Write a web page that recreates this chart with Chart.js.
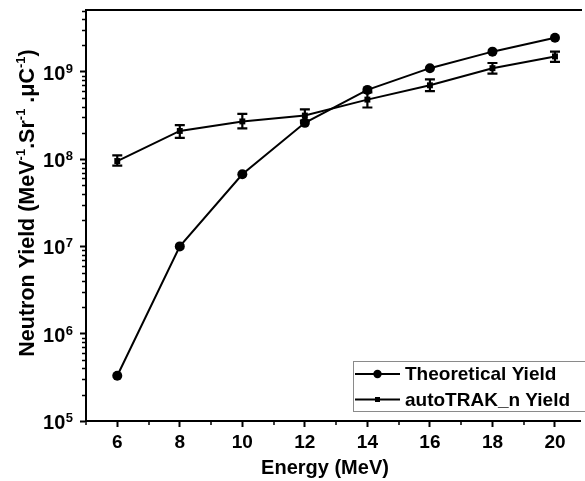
<!DOCTYPE html>
<html><head><meta charset="utf-8">
<script src="https://cdn.jsdelivr.net/npm/chart.js@4"></script>
<style>html,body{margin:0;padding:0;background:#fff}</style>
</head><body>
<canvas id="c" width="585" height="481"></canvas>
<script>
const energies = [6, 8, 10, 12, 14, 16, 18, 20];
const theoreticalYield = [3.3e5, 1.0e7, 6.7e7, 2.6e8, 6.2e8, 1.1e9, 1.7e9, 2.45e9];
const autoTrakYield = [9.5e7, 2.1e8, 2.7e8, 3.15e8, 4.8e8, 7.0e8, 1.1e9, 1.5e9];
const autoTrakLow = [8.4e7, 1.75e8, 2.25e8, 2.75e8, 3.9e8, 6.0e8, 9.5e8, 1.3e9];
const autoTrakHigh = [1.1e8, 2.45e8, 3.3e8, 3.7e8, 5.8e8, 8.2e8, 1.26e9, 1.7e9];
const yDecades = [5, 6, 7, 8, 9];
const xTickValues = [5, 6, 7, 8, 9, 10, 11, 12, 13, 14, 15, 16, 17, 18, 19, 20];
const seriesLabels = ['Theoretical Yield', 'autoTRAK_n Yield'];
const xTitle = 'Energy (MeV)';
// y title pieces: [text, isSuperscript]
const yTitleParts = [['Neutron Yield (MeV', false], ['-1', true], ['.Sr', false], ['-1', true], [' .\u03BCC', false], ['-1', true], [')', false]];

const FONT = "'Liberation Sans', Arial, Helvetica, sans-serif";
const isDecade = v => Math.abs(Math.log10(v) - Math.round(Math.log10(v))) < 1e-9;

const errorBars = {
  id: 'errorBars',
  afterDatasetsDraw(chart) {
    const {ctx, scales: {x, y}} = chart;
    ctx.save();
    ctx.strokeStyle = '#000';
    ctx.lineWidth = 2.2;
    energies.forEach((e, i) => {
      const px = x.getPixelForValue(e);
      const y1 = y.getPixelForValue(autoTrakLow[i]);
      const y2 = y.getPixelForValue(autoTrakHigh[i]);
      ctx.beginPath();
      ctx.moveTo(px, y1); ctx.lineTo(px, y2);
      ctx.moveTo(px - 5, y1); ctx.lineTo(px + 5, y1);
      ctx.moveTo(px - 5, y2); ctx.lineTo(px + 5, y2);
      ctx.stroke();
    });
    ctx.restore();
  }
};

const frameAndText = {
  id: 'frameAndText',
  afterDraw(chart) {
    const {ctx, chartArea: a, scales: {x, y}} = chart;
    ctx.save();
    ctx.strokeStyle = '#000';
    ctx.lineWidth = 2;
    ctx.beginPath();
    ctx.moveTo(a.left - 1, a.top); ctx.lineTo(a.right + 2, a.top);
    ctx.stroke();
    // minor ticks
    ctx.lineWidth = 1.5;
    ctx.beginPath();
    y.ticks.forEach(t => {
      if (!isDecade(t.value)) {
        const py = Math.round(y.getPixelForValue(t.value)) + 0.5;
        ctx.moveTo(a.left, py); ctx.lineTo(a.left - 4, py);
      }
    });
    x.ticks.forEach(t => {
      if (t.value % 2 !== 0) {
        const px = Math.round(x.getPixelForValue(t.value));
        ctx.moveTo(px, a.bottom); ctx.lineTo(px, a.bottom + 4);
      }
    });
    ctx.stroke();
    // y decade labels: 10 with superscript exponent
    ctx.fillStyle = '#000';
    yDecades.forEach(n => {
      const py = y.getPixelForValue(Math.pow(10, n));
      ctx.font = 'bold 13px ' + FONT;
      const expW = ctx.measureText(String(n)).width;
      const right = a.left - 13;
      ctx.textAlign = 'right';
      ctx.textBaseline = 'alphabetic';
      ctx.fillText(String(n), right, py + 1);
      ctx.font = 'bold 20px ' + FONT;
      ctx.fillText('10', right - expW - 0.5, py + 8);
    });
    // x title
    ctx.font = 'bold 20px ' + FONT;
    ctx.textAlign = 'center';
    ctx.textBaseline = 'middle';
    ctx.fillText(xTitle, a.left + 239, 468);
    // y title (rotated, with superscripts)
    ctx.save();
    ctx.translate(26, a.top + 193);
    ctx.rotate(-Math.PI / 2);
    const mainF = 'bold 21.5px ' + FONT, supF = 'bold 13px ' + FONT;
    let total = 0;
    yTitleParts.forEach(([t, s]) => { ctx.font = s ? supF : mainF; total += ctx.measureText(t).width; });
    let cx = -total / 2;
    ctx.textAlign = 'left';
    ctx.textBaseline = 'alphabetic';
    yTitleParts.forEach(([t, s]) => {
      ctx.font = s ? supF : mainF;
      ctx.fillText(t, cx, s ? -1 : 7.5);
      cx += ctx.measureText(t).width;
    });
    ctx.restore();
    ctx.restore();
  }
};

const legendBox = {
  id: 'legendBox',
  afterDraw(chart) {
    const {ctx, chartArea: a} = chart;
    const left = a.left + 267, top = a.bottom - 60, h = 50;
    ctx.save();
    ctx.strokeStyle = '#8a8a8a';
    ctx.lineWidth = 1;
    ctx.strokeRect(left + 0.5, top + 0.5, 300, h);
    ctx.font = 'bold 19px ' + FONT;
    ctx.textBaseline = 'middle';
    ctx.fillStyle = '#000';
    chart.data.datasets.forEach((ds, i) => {
      const cy = top + 13 + i * 25.5;
      ctx.strokeStyle = '#000';
      ctx.lineWidth = 2;
      ctx.beginPath();
      ctx.moveTo(left + 2, cy); ctx.lineTo(left + 47, cy);
      ctx.stroke();
      const mx = left + 24.5;
      ctx.beginPath();
      if (i === 0) { ctx.arc(mx, cy, 4.2, 0, Math.PI * 2); ctx.fill(); }
      else { ctx.fillRect(mx - 2.5, cy - 2.5, 5, 5); }
      ctx.fillText(ds.label, left + 52, cy + 1);
    });
    ctx.restore();
  }
};

new Chart(document.getElementById('c'), {
  type: 'line',
  data: {
    datasets: [
      {
        label: seriesLabels[0],
        data: energies.map((e, i) => ({x: e, y: theoreticalYield[i]})),
        borderColor: '#000', backgroundColor: '#000', borderWidth: 2,
        pointStyle: 'circle', pointRadius: 5, pointBorderWidth: 0, pointHoverRadius: 5, tension: 0
      },
      {
        label: seriesLabels[1],
        data: energies.map((e, i) => ({x: e, y: autoTrakYield[i]})),
        borderColor: '#000', backgroundColor: '#000', borderWidth: 2,
        pointStyle: 'rect', pointRadius: 4.2, pointBorderWidth: 0, pointHoverRadius: 4.2, tension: 0
      }
    ]
  },
  options: {
    responsive: false,
    animation: false,
    devicePixelRatio: 1,
    layout: {padding: {top: 10, right: 0, left: 0, bottom: 0}},
    plugins: {legend: {display: false}, tooltip: {enabled: false}},
    scales: {
      x: {
        type: 'linear', min: 5, max: 20.8,
        afterBuildTicks: s => { s.ticks = xTickValues.map(v => ({value: v})); },
        afterFit: s => { s.height = 60; s.paddingLeft = 0; s.paddingRight = 0; },
        ticks: {
          autoSkip: false, maxRotation: 0, padding: 4, color: '#000',
          font: {family: FONT, size: 19, weight: 'bold'},
          callback: v => (v % 2 === 0 ? String(v) : '')
        },
        grid: {
          drawOnChartArea: false, tickLength: 6, tickWidth: 2,
          color: c => (c.tick && c.tick.value % 2 === 0 ? '#000' : 'rgba(0,0,0,0)')
        },
        border: {color: '#000', width: 2},
        title: {display: false}
      },
      y: {
        type: 'logarithmic', min: 1e5, max: 5.1e9,
        afterBuildTicks: s => {
          const t = [];
          yDecades.forEach(n => { for (let m = 1; m <= 9; m++) { const v = m * Math.pow(10, n); if (v <= 5.1e9) t.push({value: v}); } });
          s.ticks = t;
        },
        afterFit: s => { s.width = 86; s.paddingTop = 0; s.paddingBottom = 0; },
        ticks: {
          autoSkip: false, padding: 7, color: '#000',
          font: {family: FONT, size: 19, weight: 'bold'},
          callback: () => ''
        },
        grid: {
          drawOnChartArea: false, tickLength: 6, tickWidth: 2,
          color: c => (c.tick && isDecade(c.tick.value) ? '#000' : 'rgba(0,0,0,0)')
        },
        border: {color: '#000', width: 2},
        title: {display: false}
      }
    }
  },
  plugins: [errorBars, frameAndText, legendBox]
});
</script>
</body></html>
